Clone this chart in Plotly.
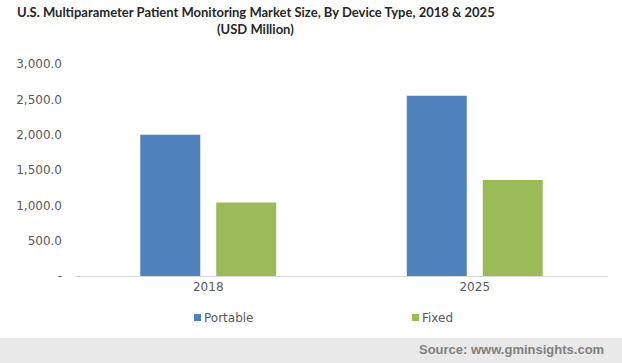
import plotly.graph_objects as go

categories = ["2018", "2025"]
portable = [2000, 2550]
fixed = [1040, 1360]
series_names = ["Portable", "Fixed"]
colors = ["#4F81BD", "#9BBB59"]
tick_vals = [0, 500, 1000, 1500, 2000, 2500, 3000]
tick_text = ["-", "500.0", "1,000.0", "1,500.0", "2,000.0", "2,500.0", "3,000.0"]

W, H = 622, 363
L, R, T, B = 75, 14, 64, 87
PW, PH = W - L - R, H - T - B

def px(x):
    return (x - L) / PW

def py(y):
    return (H - B - y) / PH

fig = go.Figure()
for name, vals, c in zip(series_names, [portable, fixed], colors):
    fig.add_trace(go.Bar(x=categories, y=vals, name=name, marker_color=c,
                         marker_line_width=0, showlegend=False))

fig.update_layout(
    width=W, height=H,
    margin=dict(l=L, r=R, t=T, b=B),
    paper_bgcolor="white", plot_bgcolor="white",
    barmode="group", bargap=0.43, bargroupgap=0.21,
    font=dict(family="DejaVu Sans", size=12, color="#595959"),
    xaxis=dict(showgrid=False, showline=True, linecolor="#D9D9D9", linewidth=1,
               ticks="", tickfont=dict(size=12, color="#595959")),
    yaxis=dict(range=[0, 3000], tickvals=tick_vals, ticktext=tick_text,
               showgrid=False, showline=False, zeroline=False, ticks="",
               ticklabelstandoff=12, tickfont=dict(size=12, color="#595959")),
)

title_font = dict(family="Lato", size=13, color="#262626")
fig.add_annotation(text="<b>U.S. Multiparameter Patient Monitoring Market Size, By Device Type, 2018 &amp; 2025</b>",
                   xref="paper", yref="paper", x=px(256), y=py(12), showarrow=False,
                   xanchor="center", yanchor="middle", font=title_font)
fig.add_annotation(text="<b>(USD Million)</b>",
                   xref="paper", yref="paper", x=px(256), y=py(29), showarrow=False,
                   xanchor="center", yanchor="middle", font=title_font)

# legend
for name, c, sx in zip(series_names, colors, [194, 412]):
    fig.add_shape(type="rect", xref="paper", yref="paper",
                  x0=px(sx), x1=px(sx + 7), y0=py(314), y1=py(321),
                  fillcolor=c, line_width=0)
    fig.add_annotation(text=name, xref="paper", yref="paper", x=px(sx + 8), y=py(318),
                       showarrow=False, xanchor="left", yanchor="middle",
                       font=dict(family="DejaVu Sans", size=12, color="#595959"))

# footer
fig.add_shape(type="rect", xref="paper", yref="paper", x0=px(0), x1=px(W),
              y0=py(338), y1=py(H), fillcolor="#E9E9E9", line_width=0, layer="below")
fig.add_annotation(text="<b>Source: www.gminsights.com</b>", xref="paper", yref="paper",
                   x=px(606), y=py(349), showarrow=False, xanchor="right", yanchor="middle",
                   font=dict(family="Liberation Sans, Arial", size=13, color="#808080"))

fig.write_html("out.html", config={"displayModeBar": False},
               post_script="document.body.style.margin='0';")
